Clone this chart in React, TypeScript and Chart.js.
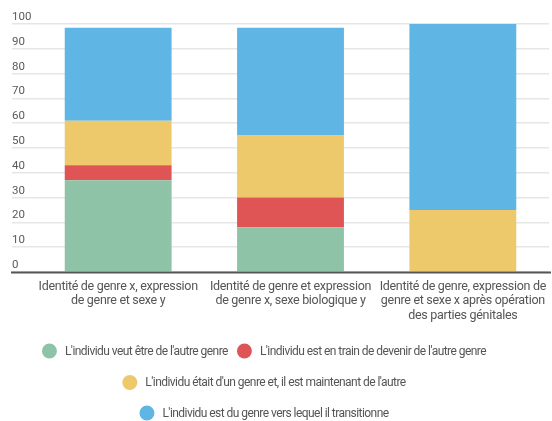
import React, { useEffect, useRef } from "react";
import { Chart, registerables } from "chart.js";

Chart.register(...registerables);

const categories: string[][] = [
  ["Identité de genre x, expression", "de genre et sexe y"],
  ["Identité de genre et expression", "de genre x, sexe biologique y"],
  ["Identité de genre, expression de", "genre et sexe x après opération", "des parties génitales"],
];

const seriesNames = [
  "L'individu veut être de l'autre genre",
  "L'individu est en train de devenir de l'autre genre",
  "L'individu était d'un genre et, il est maintenant de l'autre",
  "L'individu est du genre vers lequel il transitionne",
];

const veutEtre = [37, 18, 0];
const enTrain = [6, 12, 0];
const etaitGenre = [18, 25, 25];
const estDuGenre = [37.5, 43.5, 75];

const seriesColors = ["#8ec3a7", "#df5455", "#eec96b", "#5fb5e4"];

const yTicks = [0, 10, 20, 30, 40, 50, 60, 70, 80, 90, 100];

// legend rows: dataset indices per line
const legendRows = [[0, 1], [2], [3]];

const FONT = "Roboto, 'Noto Sans', sans-serif";

const overlayPlugin = {
  id: "overlay",
  beforeDraw(chart: any) {
    // slightly tightened lettering for the category labels
    (chart.ctx as any).letterSpacing = "-0.3px";
  },
  afterDatasetsDraw(chart: any) {
    const { ctx, chartArea, scales } = chart;
    const y = scales.y;
    ctx.save();
    (ctx as any).letterSpacing = "0px";
    // y tick labels sit above their grid lines
    ctx.font = `11.5px ${FONT}`;
    ctx.fillStyle = "#5a5a5a";
    ctx.textAlign = "left";
    ctx.textBaseline = "alphabetic";
    yTicks.forEach((v) => {
      ctx.fillText(String(v), 12, y.getPixelForValue(v) - 4);
    });
    // baseline axis
    const y0 = y.getPixelForValue(0);
    ctx.strokeStyle = "#555555";
    ctx.lineWidth = 2;
    ctx.beginPath();
    ctx.moveTo(11, y0 + 0.5);
    ctx.lineTo(chartArea.right + 2, y0 + 0.5);
    ctx.stroke();

    // legend
    const r = 7.5;
    const gapText = 8;
    const gapItem = 9;
    const centerX = 264;
    const rowY = [351, 382.5, 413];
    ctx.font = `12px ${FONT}`;
    (ctx as any).letterSpacing = "-0.55px";
    ctx.textBaseline = "middle";
    legendRows.forEach((row, ri) => {
      const widths = row.map((i) => 2 * r + gapText + ctx.measureText(seriesNames[i]).width);
      const total = widths.reduce((a, b) => a + b, 0) + gapItem * (row.length - 1);
      let x = centerX - total / 2;
      row.forEach((i, k) => {
        ctx.fillStyle = seriesColors[i];
        ctx.beginPath();
        ctx.arc(x + r, rowY[ri], r, 0, Math.PI * 2);
        ctx.fill();
        ctx.fillStyle = "#555555";
        ctx.fillText(seriesNames[i], x + 2 * r + gapText, rowY[ri] + 0.5);
        x += widths[k] + gapItem;
      });
    });
    ctx.restore();
  },
};

export default function App() {
  const canvasRef = useRef<HTMLCanvasElement | null>(null);

  useEffect(() => {
    if (!canvasRef.current) return;
    const datasets = [veutEtre, enTrain, etaitGenre, estDuGenre].map((data, i) => ({
      label: seriesNames[i],
      data,
      backgroundColor: seriesColors[i],
      borderWidth: 0,
      categoryPercentage: 1,
      barPercentage: 0.62,
    }));
    const chart = new Chart(canvasRef.current, {
      type: "bar",
      data: { labels: categories, datasets },
      options: {
        responsive: false,
        animation: false,
        layout: { padding: { top: 24, left: 12, right: 3, bottom: 0 } },
        plugins: {
          legend: { display: false },
          tooltip: { enabled: false },
        },
        scales: {
          x: {
            stacked: true,
            grid: { display: false, drawTicks: false },
            border: { display: false },
            ticks: {
              color: "#555555",
              font: { family: FONT, size: 12.5, lineHeight: 1.18 },
              padding: 7,
              maxRotation: 0,
              autoSkip: false,
            },
            afterFit(scale: any) {
              scale.height = 421 - 272;
              scale.paddingLeft = 0;
              scale.paddingRight = 0;
            },
          },
          y: {
            stacked: true,
            min: 0,
            max: 100,
            ticks: { display: false, stepSize: 10 },
            grid: {
              color: "#e6e6e6",
              lineWidth: 1.5,
              drawTicks: true,
              tickLength: 20,
            },
            border: { display: false },
            afterFit(scale: any) {
              scale.width = 20;
            },
          },
        },
      },
      plugins: [overlayPlugin],
    });
    return () => chart.destroy();
  }, []);

  return (
    <div style={{ position: "absolute", left: 0, top: 0, width: 552, height: 421, background: "#fff" }}>
      <canvas ref={canvasRef} width={552} height={421} />
    </div>
  );
}
